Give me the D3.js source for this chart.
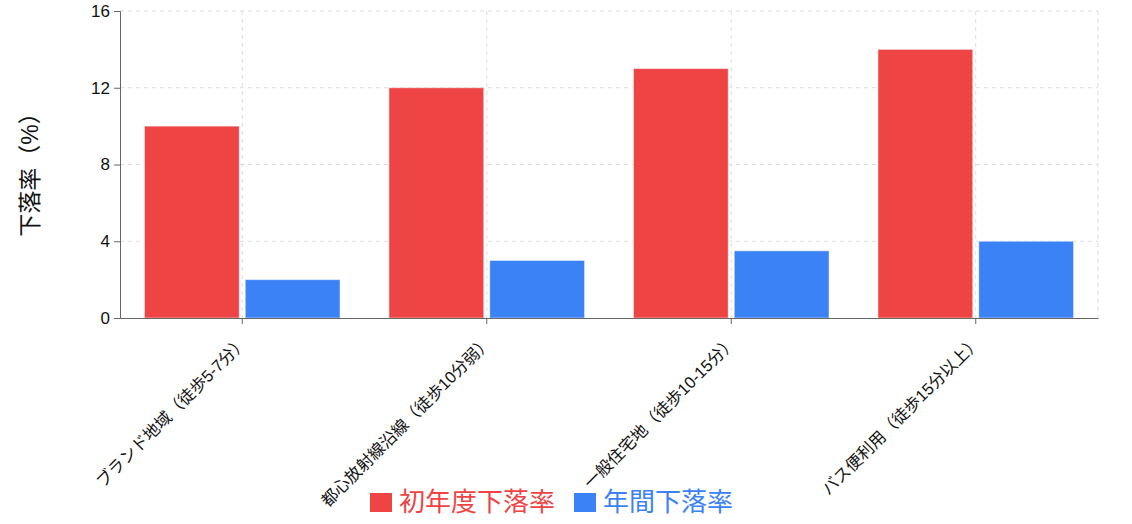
<!DOCTYPE html>
<html><head><meta charset="utf-8">
<script src="https://cdn.jsdelivr.net/npm/d3@7"></script>
<style>
body{margin:0;background:#fff;}
svg text{font-family:"Liberation Sans","Noto Sans CJK JP",sans-serif;}
</style></head>
<body><svg id="c" width="1132" height="524"></svg>
<script>
const categories = ["ブランド地域（徒歩5-7分）","都心放射線沿線（徒歩10分弱）","一般住宅地（徒歩10-15分）","バス便利用（徒歩15分以上）"];
const seriesNames = ["初年度下落率","年間下落率"];
const firstYear = [10, 12, 13, 14];
const annual = [2, 3, 3.5, 4];
const yTicks = [0, 4, 8, 12, 16];
const colors = ["#ef4444", "#3b82f6"];

const svg = d3.select("#c");
const m = {l:120, r:1098, t:11, b:318};
const x = d3.scaleBand().domain(categories).range([m.l, m.r]).paddingInner(0).paddingOuter(0);
const y = d3.scaleLinear().domain([0,16]).range([m.b, m.t]);

// grid
const g = svg.append("g");
g.selectAll(".hg").data(yTicks.slice(1)).join("line")
  .attr("x1", m.l).attr("x2", m.r).attr("y1", d=>y(d)).attr("y2", d=>y(d))
  .attr("stroke","#ddd").attr("stroke-dasharray","4 4");
const vx = categories.map(c => x(c) + x.bandwidth()/2).concat([m.r]);
g.selectAll(".vg").data(vx).join("line")
  .attr("x1", d=>d).attr("x2", d=>d).attr("y1", m.t).attr("y2", m.b)
  .attr("stroke","#ddd").attr("stroke-dasharray","4 4");

// bars
const bw = x.bandwidth();
const catGap = bw*0.1, barGap = 6;
const barW = (bw - 2*catGap - barGap)/2;
const data = [firstYear, annual];
data.forEach((vals, si) => {
  svg.append("g").selectAll("rect").data(vals).join("rect")
    .attr("x", (d,i) => x(categories[i]) + catGap + si*(barW+barGap))
    .attr("y", d => y(d))
    .attr("width", barW)
    .attr("height", d => y(0) - y(d))
    .attr("fill", colors[si])
    .attr("stroke", "rgba(255,255,255,0.5)").attr("stroke-width", 1);
});

// axes
const ya = svg.append("g").attr("transform", `translate(${m.l},0)`)
  .call(d3.axisLeft(y).tickValues(yTicks).tickSize(6).tickPadding(4));
ya.select(".domain").attr("stroke","#666");
ya.selectAll(".tick line").attr("stroke","#666");
ya.selectAll(".tick text").attr("fill","#111").attr("font-size",17);

const xa = svg.append("g").attr("transform", `translate(0,${m.b})`)
  .call(d3.axisBottom(x).tickSize(6).tickSizeOuter(0));
xa.select(".domain").attr("stroke","#666");
xa.selectAll(".tick line").attr("stroke","#666");
xa.selectAll(".tick text").attr("fill","#111").attr("font-size",16.5)
  .attr("text-anchor","end").attr("dy","0.35em")
  .attr("transform","translate(2,21) rotate(-45)")
  .attr("y",0).attr("x",0);

// y label
svg.append("text").attr("transform","translate(38,169) rotate(-90)")
  .attr("text-anchor","middle").attr("font-size",23).attr("fill","#111")
  .text("下落率（%）");

// legend
const lg = svg.append("g");
const items = [{n:seriesNames[0], c:colors[0], x:370}, {n:seriesNames[1], c:colors[1], x:574}];
items.forEach(it => {
  lg.append("rect").attr("x", it.x).attr("y", 493).attr("width", 22).attr("height", 19).attr("fill", it.c);
  lg.append("text").attr("x", it.x + 29).attr("y", 511).attr("font-size", 26).attr("fill", it.c).text(it.n);
});
</script></body></html>
